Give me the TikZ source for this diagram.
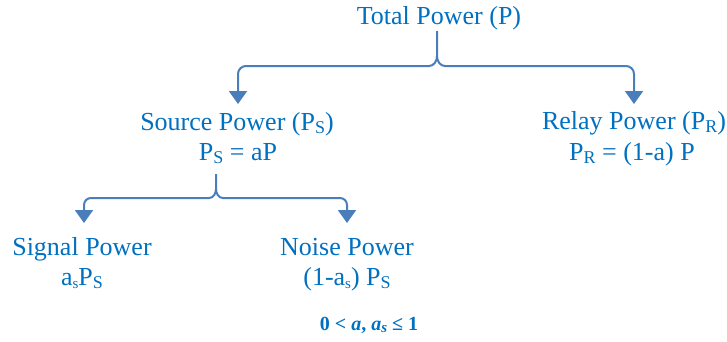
\documentclass[tikz,border=0pt]{standalone}
\usepackage{fontspec}
\setmainfont{Liberation Serif}
\usetikzlibrary{arrows.meta}
\definecolor{txtblue}{HTML}{0070C0}
\definecolor{lineblue}{HTML}{4A7EBB}
\newcommand\subU[1]{\raisebox{-0.3ex}{\fontsize{18}{18}\selectfont #1}}
\newcommand\subL[1]{\raisebox{-0.3ex}{\fontsize{15}{15}\selectfont #1}}
\begin{document}
\begin{tikzpicture}[x=1pt,y=-1pt,
  lbl/.style={text=txtblue,font=\fontsize{26}{30}\selectfont,anchor=base,inner sep=0pt},
  cond/.style={text=txtblue,font=\fontsize{20}{24}\selectfont\bfseries,anchor=base,inner sep=0pt},
  brace/.style={draw=lineblue,line width=2pt,-{Triangle[length=13pt,width=18pt]}}]
\useasboundingbox (0,0) rectangle (727,341);
% texts
\node[lbl] (total) at (439,24) {Total Power (P)};
\node[lbl] (src1) at (237,130) {Source Power (P\subU{S})};
\node[lbl] (src2) at (238,160) {P\subU{S} = aP};
\node[lbl] (rel1) at (634,129) {Relay Power (P\subU{R})};
\node[lbl] (rel2) at (632,160) {P\subU{R} = (1-a) P};
\node[lbl] (sig1) at (82,255) {Signal Power};
\node[lbl] (sig2) at (82,285) {a\subL{s}P\subU{S}};
\node[lbl] (noi1) at (347,255) {Noise Power};
\node[lbl] (noi2) at (347,285) {(1-a\subL{s}) P\subU{S}};
\node[cond] (cond) at (369,330) {0 < \textit{a}, \textit{a}\subL{\textit{s}} ≤ 1};
% coordinates
\coordinate (t1) at (437,31);
\coordinate (j1) at (437,66);
\coordinate (s1) at (238,104);
\coordinate (r1) at (634,104);
\coordinate (t2) at (216,174);
\coordinate (j2) at (216,198);
\coordinate (g2) at (84,223);
\coordinate (n2) at (347,223);
% braces
\draw[brace] (t1) -- ([yshift=10pt]j1) to[out=-90,in=0] ([xshift=-8pt]j1) -- ([xshift=8pt]s1 |- j1) to[out=180,in=90] ([yshift=-8pt]s1 |- j1) -- (s1);
\draw[brace] ([yshift=10pt]j1) to[out=-90,in=180] ([xshift=8pt]j1) -- ([xshift=-8pt]r1 |- j1) to[out=0,in=90] ([yshift=-8pt]r1 |- j1) -- (r1);
\draw[brace] (t2) -- ([yshift=9pt]j2) to[out=-90,in=0] ([xshift=-7pt]j2) -- ([xshift=7pt]g2 |- j2) to[out=180,in=90] ([yshift=-7pt]g2 |- j2) -- (g2);
\draw[brace] ([yshift=9pt]j2) to[out=-90,in=180] ([xshift=7pt]j2) -- ([xshift=-7pt]n2 |- j2) to[out=0,in=90] ([yshift=-7pt]n2 |- j2) -- (n2);
\end{tikzpicture}
\end{document}
